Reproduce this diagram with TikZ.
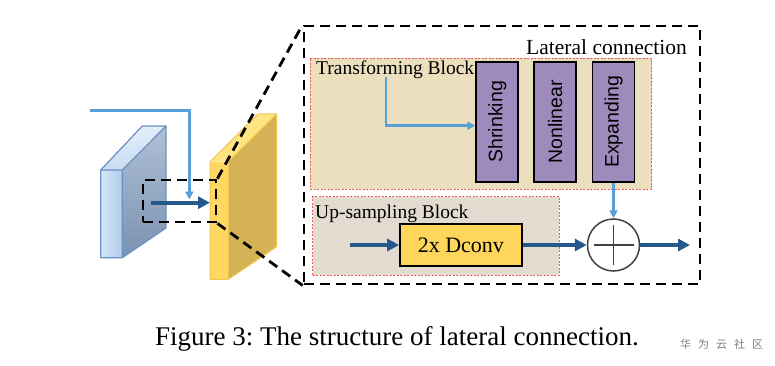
\documentclass[tikz,border=0pt]{standalone}
\usepackage{fontspec}
\usepackage{graphicx}
\setmainfont{Liberation Serif}
\setsansfont{Liberation Sans}
\newfontfamily\cjk{Noto Sans CJK SC}
\usetikzlibrary{arrows.meta}
\frenchspacing
\definecolor{transbg}{RGB}{236,223,190}
\definecolor{upbg}{RGB}{227,218,208}
\definecolor{purp}{RGB}{158,138,188}
\definecolor{goldbox}{RGB}{255,214,92}
\definecolor{darkblue}{RGB}{38,88,140}
\definecolor{lightblue}{RGB}{88,160,215}
\definecolor{slabedge}{RGB}{105,145,195}
\definecolor{yedge}{RGB}{240,200,80}
\definecolor{redline}{RGB}{235,90,90}
\definecolor{btopA}{RGB}{228,238,250}
\definecolor{btopB}{RGB}{200,220,242}
\definecolor{bfrontA}{RGB}{215,230,248}
\definecolor{bfrontB}{RGB}{178,204,234}
\definecolor{bsideA}{RGB}{176,192,214}
\definecolor{bsideB}{RGB}{122,146,176}
\definecolor{ytop}{RGB}{255,228,130}
\definecolor{yfront}{RGB}{255,216,100}
\definecolor{yside}{RGB}{214,178,86}
\definecolor{plusgray}{RGB}{65,65,65}
\definecolor{wmgray}{RGB}{125,125,125}
\tikzset{
  bigdash/.style={draw=black, line width=2.8pt, dash pattern=on 10pt off 6pt},
  blockbg/.style={draw=redline, line width=0.7pt, dash pattern=on 2pt off 1.5pt, inner sep=0pt},
  stagebox/.style={draw=black, line width=1.8pt, fill=purp, inner sep=0pt, minimum width=42pt, minimum height=120pt, font=\sffamily\fontsize{19.5}{22}\selectfont},
  darrow/.style={draw=darkblue, line width=3.6pt, -{Triangle[length=12pt,width=12pt]}},
  larrow/.style={draw=lightblue, line width=2.4pt, -{Triangle[length=8pt,width=8pt]}},
  blocklabel/.style={anchor=base west, inner sep=0pt, font=\fontsize{19.5}{22}\selectfont},
}
\begin{document}
\begin{tikzpicture}[x=1pt,y=-1pt]
\useasboundingbox (0,0) rectangle (775,366);

% ---- blue slab ----
\shade[top color=btopA, bottom color=btopB]
  (100.7,170) -- (122.3,170) -- (166,126) -- (142.3,126) -- cycle;
\shade[left color=bfrontA, right color=bfrontB]
  (100.7,170) -- (122.3,170) -- (122.3,257.7) -- (100.7,257.7) -- cycle;
\shade[top color=bsideA, bottom color=bsideB]
  (122.3,170) -- (166,126) -- (166,228) -- (122.3,257.7) -- cycle;
\draw[slabedge, line width=1.2pt, line join=round]
  (100.7,170) -- (142.3,126) -- (166,126) -- (166,228) -- (122.3,257.7) -- (100.7,257.7) -- cycle
  (100.7,170) -- (122.3,170) -- (166,126) (122.3,170) -- (122.3,257.7);

% ---- yellow slab ----
\fill[ytop]
  (210,161.7) -- (228.3,161.7) -- (276.7,114) -- (258,114) -- cycle;
\fill[yfront]
  (210,161.7) -- (228.3,161.7) -- (228.3,279.3) -- (210,279.3) -- cycle;
\fill[yside]
  (228.3,161.7) -- (276.7,114) -- (276.7,246.7) -- (228.3,279.3) -- cycle;
\draw[yedge, line width=1pt, line join=round]
  (210,161.7) -- (258,114) -- (276.7,114) -- (276.7,246.7) -- (228.3,279.3) -- (210,279.3) -- cycle
  (228.3,161.7) -- (276.7,114) (228.3,161.7) -- (228.3,279.3);

% ---- slab arrows ----
\coordinate (la0) at (90,110.7);
\coordinate (la1) at (189.3,199.5);
\coordinate (da0) at (150.7,202.7);
\coordinate (da1) at (210,202.7);
\draw[larrow] (la0) -| (la1);
\draw[darrow] (da0) -- (da1);

% ---- big lateral box and zoom ----
\node[bigdash, minimum width=396pt, minimum height=258pt, inner sep=0pt] (lat) at (502,155) {};
\node[bigdash, minimum width=73pt, minimum height=42pt, inner sep=0pt] (zoomr) at (179.5,201) {};
\draw[bigdash] (zoomr.north east) -- (lat.north west);
\draw[bigdash] (zoomr.south east) -- (lat.south west);

\node[anchor=base east, inner sep=0pt, font=\fontsize{21.5}{24}\selectfont] (latlabel) at (687,55) {Lateral connection};

% ---- transforming block ----
\node[blockbg, fill=transbg, minimum width=341.7pt, minimum height=131pt] (tb) at (480.85,123.8) {};
\node[blocklabel] (tblabel) at (316,75) {Transforming Block};
\node[stagebox] (shrink) at (497.2,121.7) {\rotatebox{90}{Shrinking}};
\node[stagebox] (nonlin) at (555.2,121.7) {\rotatebox{90}{Nonlinear}};
\node[stagebox] (expand) at (613.5,121.7) {\rotatebox{90}{Expanding}};
\coordinate (tstart) at (386,77);
\draw[larrow] (tstart) |- ([yshift=-4pt]shrink.west);

% ---- up-sampling block ----
\node[blockbg, fill=upbg, minimum width=246.6pt, minimum height=78.3pt] (ub) at (436,235.85) {};
\node[blocklabel] (ublabel) at (315,218) {Up-sampling Block};
\node[draw=black, line width=1.8pt, fill=goldbox, minimum width=121.7pt, minimum height=42pt, inner sep=0pt, font=\fontsize{22}{24}\selectfont] (dconv) at (460.85,245) {2x Dconv};

% ---- plus ----
\node[circle, draw=plusgray, line width=1.5pt, fill=white, minimum size=52pt, inner sep=0pt] (plus) at (613.5,245) {};
\draw[plusgray, line width=1.4pt] ([xshift=-20pt]plus.center) -- ([xshift=20pt]plus.center);
\draw[plusgray, line width=1.4pt] ([yshift=-20pt]plus.center) -- ([yshift=20pt]plus.center);

\coordinate (uin) at (350,245);
\coordinate (pout) at (690,245);
\draw[darrow] (uin) -- (dconv.west);
\draw[darrow] (dconv.east) -- (plus.west);
\draw[darrow] (plus.east) -- (pout);
\draw[larrow] (expand.south) -- (plus.north);

% ---- caption ----
\node[anchor=base west, inner sep=0pt, font=\fontsize{27}{30}\selectfont] (caption) at (155,345) {Figure 3: The structure of lateral connection.};
\node[anchor=base west, inner sep=0pt, text=wmgray, font=\cjk\fontsize{11}{13}\selectfont] (wm) at (680,348) {华\hspace{7pt}为\hspace{7pt}云\hspace{7pt}社\hspace{7pt}区};
\end{tikzpicture}
\end{document}
